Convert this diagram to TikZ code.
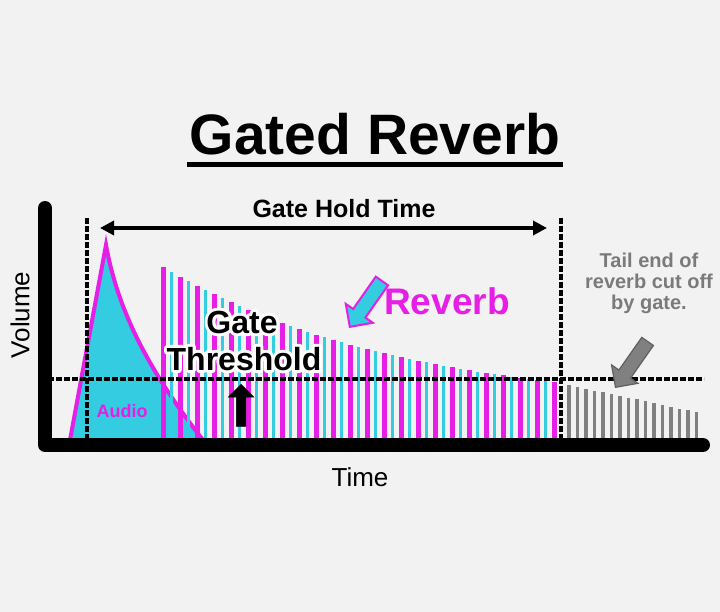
\documentclass[tikz,border=0pt]{standalone}
\usepackage{fontspec}
\setmainfont{Liberation Sans}
\usetikzlibrary{arrows.meta,shapes.arrows}
\definecolor{bg}{HTML}{F2F2F2}
\definecolor{mag}{HTML}{E61EE6}
\definecolor{cya}{HTML}{33CCE0}
\definecolor{tailgray}{HTML}{808080}
\definecolor{tailtext}{HTML}{7A7A7A}
\newcommand\halotext[1]{\rlap{\special{pdf:literal direct 1 1 1 RG 6 w 1 j 1 J 1 Tr}#1\special{pdf:literal direct 0 Tr 0 0 0 RG 1 w}}#1}
\begin{document}
\begin{tikzpicture}[x=1pt,y=-1pt,
 axis/.style={line width=14pt, line cap=round, line join=round},
 gateline/.style={line width=3.4pt, dash pattern=on 6pt off 2pt},
 magbar/.style={mag, line width=5pt},
 cyabar/.style={cya, line width=2.8pt},
 graythick/.style={tailgray, line width=4.5pt},
 graythin/.style={tailgray, line width=2.5pt},
 blockarrow/.style={single arrow, inner xsep=0pt, inner ysep=6.5pt, single arrow head extend=9pt, single arrow head indent=0pt, minimum height=56pt, line width=2pt, anchor=tip},
 lbl/.style={inner sep=0pt, font=\bfseries}
]
\fill[bg] (0,0) rectangle (720,612);
\useasboundingbox (0,0) rectangle (720,612);

% title
\node[lbl, font=\bfseries\fontsize{57}{60}\selectfont, anchor=base] (title) at (375,155) {Gated Reverb};
\draw[line width=5pt] (187,165) -- (563,165);

% audio envelope
\filldraw[fill=cya, draw=mag, line width=4pt, line join=miter] (70,440) -- (106,245) .. controls (116,300) and (140,360) .. (203,440) -- cycle;

% reverb bars
\foreach \i in {0,...,23}{
  \pgfmathsetmacro\bx{163+17*\i}
  \pgfmathsetmacro\bt{440-30-143*exp(-0.00418*17*\i)}
  \draw[magbar] (\bx,438) -- (\bx,\bt);
}
\foreach \i in {0,...,22}{
  \pgfmathsetmacro\bx{171.5+17*\i}
  \pgfmathsetmacro\bt{440-30-143*exp(-0.00418*(8.5+17*\i))}
  \draw[cyabar] (\bx,438) -- (\bx,\bt);
}
% cut tail
\foreach \i in {0,...,7}{
  \pgfmathsetmacro\bx{569+17*\i}
  \pgfmathsetmacro\bt{385+3.6*\i}
  \draw[graythick] (\bx,438) -- (\bx,\bt);
  \pgfmathsetmacro\cx{577.5+17*\i}
  \pgfmathsetmacro\ct{387+3.6*\i}
  \draw[graythin] (\cx,438) -- (\cx,\ct);
}

% axes
\draw[axis] (45,208) -- (45,445) -- (703,445);

% gate lines
\draw[gateline] (87,218) -- (87,440);
\draw[gateline] (561,218) -- (561,440);
\draw[gateline] (40,379) -- (704,379);

% gate hold time
\coordinate (ghL) at (100,228);
\coordinate (ghR) at (547,228);
\draw[line width=3.5pt, {Triangle[length=14pt,width=14pt]}-{Triangle[length=14pt,width=14pt]}] (ghL) -- (ghR);
\node[lbl, font=\bfseries\fontsize{25}{28}\selectfont, anchor=base] (ght) at (344,218) {Gate Hold Time};

% reverb label
\node[lbl, text=mag, font=\bfseries\fontsize{37}{40}\selectfont, anchor=base] (rev) at (447,315) {Reverb};
\node[blockarrow, draw=mag, fill=cya, rotate=235] (revarrow) at (349,328) {};

% gate threshold
\node[lbl, font=\bfseries\fontsize{32}{37}\selectfont, anchor=base] (gate) at (242,333) {\halotext{Gate}};
\node[lbl, font=\bfseries\fontsize{32}{37}\selectfont, anchor=base] (thr) at (244,370) {\halotext{Threshold}};
\node[blockarrow, fill=black, draw=black, minimum height=42pt, inner ysep=4.5pt, single arrow head extend=8pt, rotate=90, line width=0.5pt] (uparrow) at (241,384) {};

% audio label
\node[lbl, text=mag, font=\bfseries\fontsize{18}{20}\selectfont, anchor=base] (audio) at (122,417) {Audio};

% tail text
\node[lbl, text=tailtext, font=\bfseries\fontsize{20}{21}\selectfont, align=center, anchor=north] (tail) at (649,253) {Tail end of\\reverb cut off\\by gate.};
\node[blockarrow, fill=tailgray, draw=tailgray!75!black, rotate=235, line width=1.2pt] (tailarrow) at (615,388) {};

% axis labels
\node[inner sep=0pt, font=\fontsize{26}{28}\selectfont, rotate=90] (vol) at (20,315) {Volume};
\node[inner sep=0pt, font=\fontsize{26}{28}\selectfont, anchor=base] (time) at (360,486) {Time};
\end{tikzpicture}
\end{document}
